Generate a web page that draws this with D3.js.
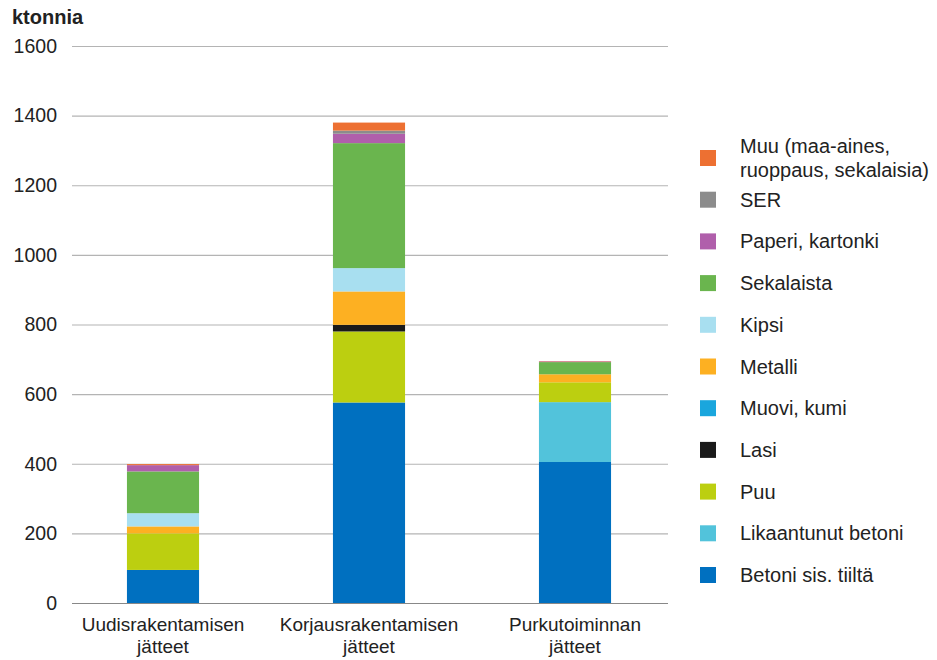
<!DOCTYPE html>
<html>
<head>
<meta charset="utf-8">
<script src="https://cdn.jsdelivr.net/npm/d3@7"></script>
<style>
  body { margin: 0; background: #fff; }
  svg text { font-family: "Liberation Sans", Arial, sans-serif; fill: #222; }
</style>
</head>
<body>
<div class="chart"></div>
<script>
// DATA ------------------------------
const categories = [["Uudisrakentamisen", "jätteet"], ["Korjausrakentamisen", "jätteet"], ["Purkutoiminnan", "jätteet"]];
const seriesNames = ["Betoni sis. tiiltä", "Likaantunut betoni", "Puu", "Lasi", "Muovi, kumi", "Metalli", "Kipsi", "Sekalaista", "Paperi, kartonki", "SER", "Muu (maa-aines, ruoppaus, sekalaisia)"];
const seriesColors = ["#0070c0", "#52c3db", "#bccf10", "#1a1a1a", "#1aa6dd", "#fdb022", "#a8dff0", "#6ab54e", "#b05fab", "#8c8c8c", "#ed7032"];
// values per series, one per category
const betoni = [95, 576, 405];
const likaantunut = [0, 0, 172];
const puu = [105, 204, 57];
const lasi = [0, 19, 0];
const muovi = [0, 0, 0];
const metalli = [20, 96, 23];
const kipsi = [38, 67, 0];
const sekalaista = [120, 359, 35];
const paperi = [18, 27, 2];
const ser = [0, 9, 0];
const muu = [3, 23, 1];
const yTicks = [0, 200, 400, 600, 800, 1000, 1200, 1400, 1600];

const values = [betoni, likaantunut, puu, lasi, muovi, metalli, kipsi, sekalaista, paperi, ser, muu];

// CHART ------------------------------
const W = 937, H = 660;
const svg = d3.select(".chart").append("svg")
  .attr("width", W).attr("height", H);

const plotLeft = 72, plotRight = 668, plotTop = 46, plotBottom = 603;

const table = categories.map((c, i) => {
  const row = {cat: i};
  seriesNames.forEach((s, j) => row[s] = values[j][i]);
  return row;
});
const stacked = d3.stack().keys(seriesNames)(table);

const xScale = d3.scaleBand()
  .domain(d3.range(categories.length))
  .range([60, 678])
  .paddingInner(0.65)
  .paddingOuter(0.325);

const yScale = d3.scaleLinear()
  .domain([0, 1600])
  .range([plotBottom, plotTop]);

// gridlines + y labels
const yAxis = d3.axisLeft(yScale)
  .tickValues(yTicks)
  .tickSize(-(plotRight - plotLeft))
  .tickPadding(15)
  .tickFormat(d3.format("d"));

const gy = svg.append("g")
  .attr("class", "y-axis")
  .attr("transform", `translate(${plotLeft},0)`)
  .call(yAxis);
gy.select(".domain").remove();
gy.selectAll(".tick line").attr("stroke", "#b4b4b4").attr("stroke-width", 1.2);
gy.selectAll(".tick text").attr("font-size", 19.5).attr("fill", "#222");
gy.selectAll(".tick").filter(d => d === 0).select("line").attr("stroke", "#888");

// bars
svg.append("g").selectAll("g")
  .data(stacked)
  .join("g")
  .attr("fill", (d, i) => seriesColors[i])
  .selectAll("rect")
  .data(d => d)
  .join("rect")
  .attr("x", d => xScale(d.data.cat))
  .attr("y", d => yScale(d[1]))
  .attr("width", xScale.bandwidth())
  .attr("height", d => yScale(d[0]) - yScale(d[1]));

// x labels
const gx = svg.append("g").attr("class", "x-axis");
categories.forEach((c, i) => {
  const t = gx.append("text")
    .attr("x", xScale(i) + xScale.bandwidth() / 2)
    .attr("y", 631)
    .attr("text-anchor", "middle")
    .attr("font-size", 19);
  c.forEach((line, k) => {
    t.append("tspan")
      .attr("x", xScale(i) + xScale.bandwidth() / 2)
      .attr("dy", k === 0 ? 0 : 22)
      .text(line);
  });
});

// y title
svg.append("text")
  .attr("x", 12).attr("y", 24)
  .attr("font-size", 20)
  .attr("font-weight", "bold")
  .text("ktonnia");

// legend (top-down in reverse stack order)
const legendItems = seriesNames.map((s, i) => ({name: s, color: seriesColors[i]})).reverse();
const legendLines = {"Muu (maa-aines, ruoppaus, sekalaisia)": ["Muu (maa-aines,", "ruoppaus, sekalaisia)"]};
const legendY = d3.scalePoint()
  .domain(legendItems.map(d => d.name))
  .range([158, 575]);

const lg = svg.append("g").attr("class", "legend");
legendItems.forEach(d => {
  const cy = legendY(d.name);
  lg.append("rect")
    .attr("x", 700).attr("y", cy - 8)
    .attr("width", 16).attr("height", 16)
    .attr("fill", d.color);
  const lines = legendLines[d.name] || [d.name];
  const t = lg.append("text")
    .attr("x", 740)
    .attr("y", cy + 7 - (lines.length - 1) * 12)
    .attr("font-size", 20);
  lines.forEach((l, k) => {
    t.append("tspan").attr("x", 740).attr("dy", k === 0 ? 0 : 24).text(l);
  });
});
</script>
</body>
</html>
